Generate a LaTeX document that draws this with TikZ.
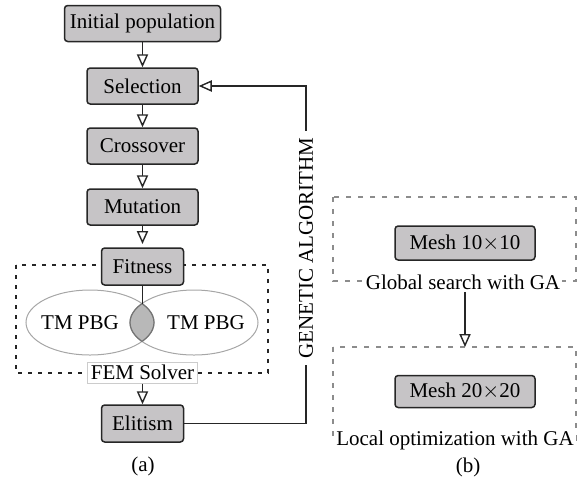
\documentclass[tikz,border=0pt]{standalone}
\usepackage{fontspec}
\setmainfont{Liberation Serif}
\usetikzlibrary{arrows.meta}
\definecolor{boxgray}{RGB}{198,196,198}
\definecolor{lensgray}{RGB}{184,184,184}
\begin{document}
\begin{tikzpicture}[x=0.5pt,y=-0.5pt,
  font=\fontsize{10.5}{12}\selectfont,
  stage/.style={draw=black!85, fill=boxgray, rounded corners=1.6pt,
    line width=0.75pt, inner sep=0pt, minimum height=18pt},
  conn/.style={line width=0.7pt, draw=black!85},
  tri/.style={-{Triangle[open, length=6.5pt, width=5.6pt, fill=white, line width=0.7pt]}},
  frameA/.style={draw=black!85, line width=0.7pt, dash pattern=on 2pt off 3pt},
  frameB/.style={draw=black!45, line width=0.7pt, dash pattern=on 2.5pt off 3.5pt},
  tag/.style={fill=white, inner sep=1pt},
]
\useasboundingbox (0,0) rectangle (581,477);

% ---------- (a) genetic algorithm flow ----------
\draw[frameA] (16,265) rectangle (268,373);

\node[stage, minimum width=78pt]   (init) at (142.5,23.5)  {Initial population};
\node[stage, minimum width=55.5pt] (sel)  at (142.5,86)    {Selection};
\node[stage, minimum width=55.5pt] (cro)  at (142.5,146)   {Crossover};
\node[stage, minimum width=55.5pt] (mut)  at (142.5,207)   {Mutation};
\node[stage, minimum width=41pt, minimum height=18.5pt, outer sep=2pt]
      (fit) at (142.5,266.5) {Fitness};
\node[stage, minimum width=41pt, minimum height=18.5pt] (eli) at (142.5,423.5) {Elitism};

% two overlapping solver domains
\begin{scope}
  \clip (90,322.5) ellipse [x radius=32pt, y radius=16.25pt];
  \fill[lensgray] (194,322.5) ellipse [x radius=32pt, y radius=16.25pt];
\end{scope}
\draw[black!35, line width=0.5pt] (90,322.5) ellipse [x radius=32pt, y radius=16.25pt];
\draw[black!35, line width=0.5pt] (194,322.5) ellipse [x radius=32pt, y radius=16.25pt];
\begin{scope}
  \clip (90,322.5) ellipse [x radius=32pt, y radius=16.25pt];
  \draw[black!55, line width=0.6pt] (194,322.5) ellipse [x radius=32pt, y radius=16.25pt];
\end{scope}
\begin{scope}
  \clip (194,322.5) ellipse [x radius=32pt, y radius=16.25pt];
  \draw[black!55, line width=0.6pt] (90,322.5) ellipse [x radius=32pt, y radius=16.25pt];
\end{scope}
\coordinate (lens) at (142.5,303.8);
\node (tmL) at (80,323)  {TM PBG};
\node (tmR) at (206,323) {TM PBG};

\node[draw=black!20, fill=white, line width=0.5pt, inner sep=0pt,
      minimum width=55pt, minimum height=10.5pt] (fem) at (142.5,372.5) {FEM Solver};

\draw[conn, tri] (init) -- (sel);
\draw[conn, tri] (sel) -- (cro);
\draw[conn, tri] (cro) -- (mut);
\draw[conn, tri] (mut) -- (fit.north -| mut);
\draw[conn] ([yshift=2pt]fit.south) -- (lens);
\draw[conn, tri] (fem) -- (eli);

\coordinate (gaT) at (306,86);
\draw[conn, tri] (eli.east) -| (gaT) -- (sel.east);
\node[fill=white, rotate=90, inner sep=3pt] (ga) at (306,248) {GENETIC ALGORITHM};

\node[inner sep=0pt] (capA) at (143,466) {(a)};

% ---------- (b) two-stage mesh search ----------
\draw[frameB] (333,197) rectangle (576,281);
\draw[frameB] (333,347) rectangle (576,440);

\node[stage, minimum width=70pt, minimum height=17pt] (m10) at (465,243)   {Mesh 10$\times$10};
\node[stage, minimum width=70pt, minimum height=16pt] (m20) at (465,391.5) {Mesh 20$\times$20};

\node[tag] (glob) at (463,282) {Global search with GA};
\node[tag] (loc)  at (455,440) {Local optimization with GA};

\coordinate (b2top) at (465,347);
\draw[conn, tri] (glob.south -| b2top) -- (b2top);

\node[inner sep=0pt] (capB) at (468,467) {(b)};
\end{tikzpicture}
\end{document}
